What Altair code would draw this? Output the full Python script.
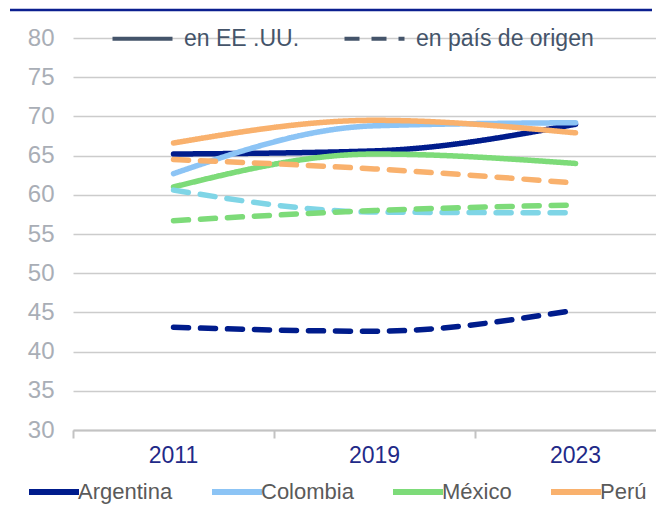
import json
import altair as alt
import pandas as pd

years = ["2011", "2019", "2023"]
countries = ["Argentina", "Colombia", "México", "Perú"]
tipos = ["en EE .UU.", "en país de origen"]

# en EE.UU. (solid)
arg_eeuu = [65.2, 65.6, 69.0]
col_eeuu = [62.7, 68.8, 69.2]
mex_eeuu = [61.0, 65.2, 64.0]
per_eeuu = [66.6, 69.5, 67.9]

# en país de origen (dashed)
arg_origen = [43.1, 42.6, 45.3]
col_origen = [60.6, 57.8, 57.7]
mex_origen = [56.7, 58.0, 58.7]
per_origen = [64.5, 63.3, 61.5]

series = {
    ("Argentina", tipos[0]): arg_eeuu,
    ("Colombia", tipos[0]): col_eeuu,
    ("México", tipos[0]): mex_eeuu,
    ("Perú", tipos[0]): per_eeuu,
    ("Argentina", tipos[1]): arg_origen,
    ("Colombia", tipos[1]): col_origen,
    ("México", tipos[1]): mex_origen,
    ("Perú", tipos[1]): per_origen,
}

rows = []
for (country, tipo), vals in series.items():
    key = country if not (country == "Colombia" and tipo == tipos[1]) else "Colombia (origen)"
    for i, v in enumerate(vals):
        rows.append({"pos": i + 0.5, "year": years[i], "valor": v,
                     "pais": key, "tipo": tipo})
df = pd.DataFrame(rows)

color_domain = countries + ["Colombia (origen)"]
color_range = ["#001c8c", "#8cc4f5", "#7ddb79", "#f9b16d", "#7fd5e6"]

FONT = "Liberation Sans"

lines = alt.Chart(df).mark_line(
    interpolate="monotone", strokeWidth=5.5, strokeCap="round", strokeJoin="round"
).encode(
    x=alt.X("pos:Q",
            scale=alt.Scale(domain=[0, 2.9], nice=False, zero=False),
            axis=alt.Axis(values=[0, 1, 2], title=None, grid=False,
                          labelExpr=json.dumps(years) + "[datum.value]",
                          labelOffset=100, labelFlush=False, labelOverlap=False,
                          labelFont=FONT, labelFontSize=23, labelColor="#1f2a88",
                          labelPadding=6, tickSize=8, tickWidth=2, tickColor="#c3c3c3",
                          domainColor="#c3c3c3", domainWidth=2)),
    y=alt.Y("valor:Q",
            scale=alt.Scale(domain=[30, 80], nice=False, zero=False),
            axis=alt.Axis(values=list(range(30, 81, 5)), title=None, ticks=False,
                          domain=False, gridColor="#cccccc", gridWidth=1.5,
                          labelFont=FONT, labelFontSize=24, labelColor="#a9aeb6",
                          labelPadding=19)),
    color=alt.Color("pais:N",
                    scale=alt.Scale(domain=color_domain, range=color_range),
                    legend=alt.Legend(values=countries, title=None, orient="none",
                                      direction="horizontal", legendX=-30, legendY=443,
                                      symbolType="M-5,0H5", symbolSize=100,
                                      symbolStrokeWidth=6, labelOffset=13,
                                      labelFont=FONT, labelFontSize=22, labelLimit=400,
                                      labelColor="#5a5a5a", columnPadding=27)),
    strokeDash=alt.StrokeDash("tipo:N",
                              scale=alt.Scale(domain=tipos, range=[[1, 0], [15, 12]]),
                              legend=alt.Legend(title=None, orient="none",
                                                direction="horizontal", legendX=58,
                                                legendY=-11, symbolType="M-5,0H5",
                                                symbolSize=144, symbolStrokeWidth=4,
                                                symbolStrokeColor="#44546a",
                                                labelOffset=30, labelFont=FONT,
                                                labelFontSize=23, labelColor="#44546a",
                                                labelLimit=400, columnPadding=36)),
)

top_rule = alt.Chart(pd.DataFrame({"a": [0]})).mark_rule(
    color="#0b1f8f", strokeWidth=2.5
).encode(x=alt.value(-63), x2=alt.value(579), y=alt.value(-28))

chart = alt.layer(top_rule, lines).properties(
    width=583, height=392,
    padding={"top": 0, "left": 0, "right": 0, "bottom": 0}
).configure_view(stroke=None)

chart.save("out.html", embed_options={"renderer": "svg", "actions": False})
